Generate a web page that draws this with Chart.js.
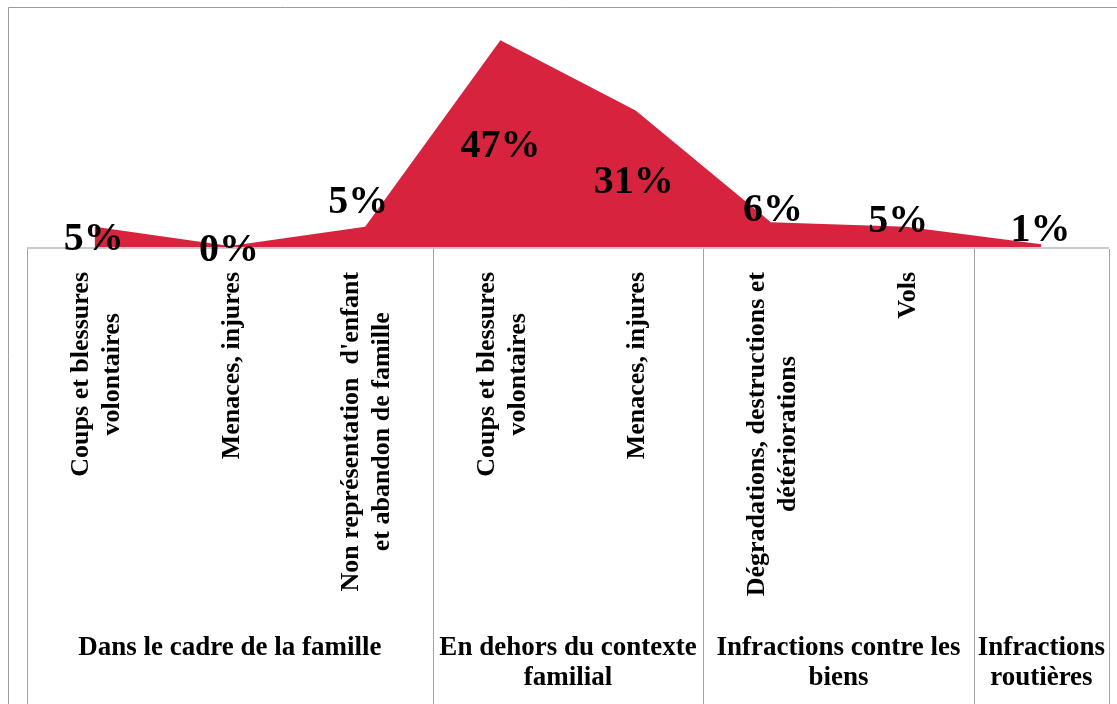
<!DOCTYPE html>
<html><head><meta charset="utf-8">
<script src="https://cdn.jsdelivr.net/npm/chart.js@4/dist/chart.umd.min.js"></script>
<style>html,body{margin:0;padding:0;background:#fff}#wrap{width:1117px;height:704px;position:relative}</style>
</head><body><div id="wrap"><canvas id="c"></canvas></div>
<script>
// ---- data ----
const categories = [
  ['Coups et blessures', 'volontaires'],
  ['Menaces, injures'],
  ["Non représentation  d'enfant", 'et abandon de famille'],
  ['Coups et blessures', 'volontaires'],
  ['Menaces, injures'],
  ['Dégradations, destructions et', 'détériorations'],
  ['Vols'],
  ['']
];
const values = [4.6, 0.2, 4.6, 47.0, 31.0, 5.6, 4.6, 0.6];
const groupLabels = [
  ['Dans le cadre de la famille'],
  ['En dehors du contexte', 'familial'],
  ['Infractions contre les', 'biens'],
  ['Infractions', 'routières']
];
const groupSizes = [3, 2, 2, 1];

// ---- styling ----
const FONT = "'Liberation Serif','Times New Roman',serif";
const labelNudges = [[-1, 23], [-1, 15], [-7, -14], [0, 117], [-2, 82], [2, -1], [-8, 5], [-1, -3]];

const deco = {
  id: 'deco',
  beforeDraw(chart) {
    const ctx = chart.ctx;
    ctx.save();
    ctx.strokeStyle = '#9c9c9c';
    ctx.lineWidth = 1;
    ctx.beginPath();
    ctx.moveTo(8.5, chart.height);
    ctx.lineTo(8.5, 7.5);
    ctx.lineTo(chart.width, 7.5);
    ctx.stroke();
    ctx.restore();
  },
  afterDraw(chart) {
    const ctx = chart.ctx;
    const xs = chart.scales.x;
    const area = chart.chartArea;
    const H = chart.height;
    ctx.save();
    // axis top line
    ctx.strokeStyle = '#c6cbcb';
    ctx.lineWidth = 2;
    ctx.beginPath();
    ctx.moveTo(area.left, area.bottom + 1);
    ctx.lineTo(area.right, area.bottom + 1);
    ctx.stroke();
    // group separators
    const bounds = [area.left];
    let idx = 0;
    groupSizes.forEach((n) => {
      idx += n;
      if (idx < categories.length) {
        bounds.push((xs.getPixelForValue(idx - 1) + xs.getPixelForValue(idx)) / 2);
      } else {
        bounds.push(area.right);
      }
    });
    ctx.strokeStyle = '#a4a4a4';
    ctx.lineWidth = 1;
    bounds.forEach(b => {
      const x = Math.round(b) + 0.5;
      ctx.beginPath();
      ctx.moveTo(x, area.bottom + 2);
      ctx.lineTo(x, H);
      ctx.stroke();
    });
    // category labels (rotated, top aligned, centred lines)
    ctx.fillStyle = '#000';
    ctx.font = 'bold 26px ' + FONT;
    ctx.textAlign = 'center';
    ctx.textBaseline = 'middle';
    const lh = 31;
    categories.forEach((lines, i) => {
      const cx = xs.getPixelForValue(i);
      const W = Math.max(...lines.map(l => ctx.measureText(l).width));
      ctx.save();
      ctx.translate(cx + 2, area.bottom + 25);
      ctx.rotate(-Math.PI / 2);
      lines.forEach((l, k) => {
        ctx.fillText(l, -W / 2, (k - (lines.length - 1) / 2) * lh);
      });
      ctx.restore();
    });
    // group labels
    ctx.font = 'bold 27px ' + FONT;
    groupLabels.forEach((lines, g) => {
      const cx = (bounds[g] + bounds[g + 1]) / 2;
      lines.forEach((l, k) => {
        ctx.fillText(l, cx, 648 + k * 30);
      });
    });
    // data labels
    const meta = chart.getDatasetMeta(0);
    ctx.font = 'bold 40px ' + FONT;
    ctx.textBaseline = 'alphabetic';
    meta.data.forEach((pt, i) => {
      const [dx, dy] = labelNudges[i];
      ctx.fillText(Math.round(values[i]) + '%', pt.x + dx, pt.y + dy);
    });
    ctx.restore();
  }
};

new Chart(document.getElementById('c'), {
  type: 'line',
  data: {
    labels: categories.map(l => l.join(' ')),
    datasets: [{
      data: values,
      fill: 'origin',
      backgroundColor: '#d8233f',
      borderWidth: 0,
      borderColor: '#d8233f',
      pointRadius: 0,
      tension: 0
    }]
  },
  options: {
    responsive: true,
    maintainAspectRatio: false,
    animation: false,
    layout: { padding: { left: 27, right: 8, top: 27, bottom: 457 } },
    plugins: { legend: { display: false }, tooltip: { enabled: false } },
    scales: {
      x: { display: false, offset: true },
      y: { display: false, min: 0, max: 50 }
    }
  },
  plugins: [deco]
});
</script>
</body></html>
